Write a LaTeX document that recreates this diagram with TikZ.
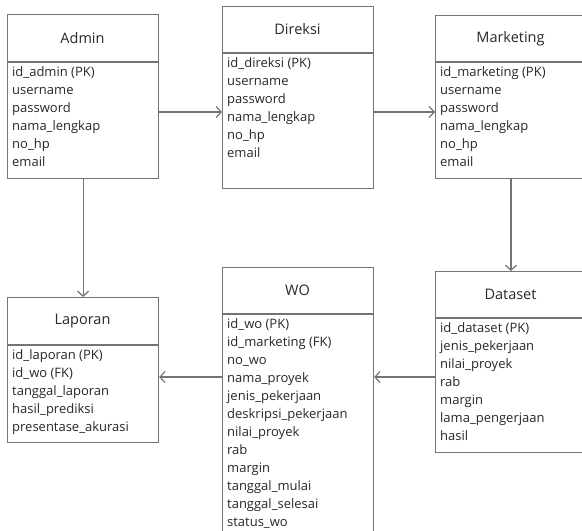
\documentclass[tikz,border=0pt]{standalone}
\usepackage{fontspec}
\setmainfont{Open Sans}
\usetikzlibrary{arrows.meta}
\definecolor{edgec}{HTML}{747474}
\definecolor{ink}{HTML}{282828}
\tikzset{
  entbox/.style={draw=edgec, line width=1.2pt, rectangle, inner sep=0pt, fill=white},
  hdrline/.style={draw=edgec, line width=1.2pt},
  enttitle/.style={text=ink, inner sep=0pt, font=\fontsize{14.5}{17}\selectfont},
  entattr/.style={text=ink, inner sep=0pt, align=left, font=\fontsize{13}{18}\selectfont},
  rel/.style={draw=edgec, line width=1.2pt, -{Straight Barb[length=5pt,width=11pt,line width=1.2pt]}}
}
\newcommand\erbox[8]{%
  \node[entbox, anchor=north west, minimum width=#4pt, minimum height=#5pt] (#1) at (#2,#3) {};
  \draw[hdrline] ([yshift=-#6pt]#1.north west) -- ([yshift=-#6pt]#1.north east);
  \node[enttitle] (#1-t) at ([yshift=-0.5*#6pt, xshift=75.5pt]#1.north west) {#7};
  \node[entattr, anchor=north west] (#1-a) at ([xshift=5pt, yshift=-#6pt-4pt]#1.north west) {#8};
}
\begin{document}
\begin{tikzpicture}[x=1pt,y=-1pt]
\useasboundingbox (0,0) rectangle (582,531);
\clip (0,0) rectangle (582,531);
\fill[white] (0,0) rectangle (582,531);
\erbox{admin}{7}{14}{151}{164}{48}{Admin}{id\_admin (PK)\\username\\password\\nama\_lengkap\\no\_hp\\email}
\erbox{direksi}{222}{6}{151}{182}{47}{Direksi}{id\_direksi (PK)\\username\\password\\nama\_lengkap\\no\_hp\\email}
\erbox{marketing}{435}{15}{190}{163}{47}{Marketing}{id\_marketing (PK)\\username\\password\\nama\_lengkap\\no\_hp\\email}
\erbox{laporan}{7}{297}{151}{145}{48}{Laporan}{id\_laporan (PK)\\id\_wo (FK)\\tanggal\_laporan\\hasil\_prediksi\\presentase\_akurasi}
\erbox{wo}{222}{267}{151}{290}{47}{WO}{id\_wo (PK)\\id\_marketing (FK)\\no\_wo\\nama\_proyek\\jenis\_pekerjaan\\deskripsi\_pekerjaan\\nilai\_proyek\\rab\\margin\\tanggal\_mulai\\tanggal\_selesai\\status\_wo}
\erbox{dataset}{435}{271}{190}{181}{47}{Dataset}{id\_dataset (PK)\\jenis\_pekerjaan\\nilai\_proyek\\rab\\margin\\lama\_pengerjaan\\hasil}
\coordinate (r1) at (0,112);
\coordinate (r2) at (0,377);
\coordinate (c1) at (511,0);
\draw[rel] (admin.east |- r1) -- (direksi.west |- r1);
\draw[rel] (direksi.east |- r1) -- (marketing.west |- r1);
\draw[rel] (admin.south) -- (laporan.north);
\draw[rel] (marketing.south -| c1) -- (dataset.north -| c1);
\draw[rel] (dataset.west |- r2) -- (wo.east |- r2);
\draw[rel] (wo.west |- r2) -- (laporan.east |- r2);
\end{tikzpicture}
\end{document}
